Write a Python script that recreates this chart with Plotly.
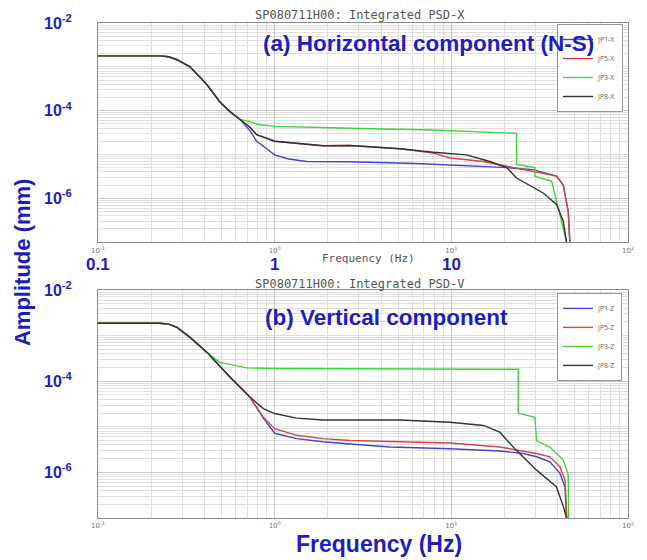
import math
import plotly.graph_objects as go

# ---------------- data (frequency in Hz, amplitude in mm) ----------------
# (a) Horizontal component (N-S)
x_names = ["JP1-X", "JP5-X", "JP3-X", "JP8-X"]
x_jp1_f = [0.1, 0.224, 0.251, 0.280, 0.332, 0.414, 0.490, 0.558, 0.637, 0.724, 0.791, 1.0, 1.2, 1.52, 2.67, 4.49, 6.37, 20.6, 29.0, 39.4, 43.0, 45.9, 46.9, 47.2]
x_jp1_a = [1.78e-3, 1.78e-3, 1.70e-3, 1.45e-3, 1.0e-3, 3.89e-4, 1.58e-4, 9.5e-5, 6.3e-5, 3.5e-5, 2.0e-5, 9.8e-6, 7.9e-6, 6.9e-6, 6.8e-6, 6.3e-6, 6.2e-6, 5.0e-6, 4.5e-6, 3.2e-6, 2.0e-6, 5.0e-7, 1.0e-7, 5e-8]
x_jp5_f = [0.1, 0.224, 0.251, 0.280, 0.332, 0.414, 0.490, 0.558, 0.637, 0.724, 0.791, 1.0, 1.88, 2.67, 5.12, 7.91, 9.82, 15.2, 20.6, 29.0, 39.4, 43.0, 45.9, 46.9, 47.2]
x_jp5_a = [1.78e-3, 1.78e-3, 1.70e-3, 1.45e-3, 1.0e-3, 3.89e-4, 1.58e-4, 9.5e-5, 6.3e-5, 4.2e-5, 2.82e-5, 2.0e-5, 1.58e-5, 1.6e-5, 1.35e-5, 1.07e-5, 8.3e-6, 6.9e-6, 5.4e-6, 4.1e-6, 3.2e-6, 2.0e-6, 5.0e-7, 1.0e-7, 5e-8]
x_jp3_f = [0.1, 0.224, 0.251, 0.280, 0.332, 0.414, 0.490, 0.558, 0.637, 0.724, 0.791, 1.0, 2.67, 7.91, 23.4, 23.4, 29.7, 29.7, 37.0, 39.4, 43.0, 44.9, 45.2]
x_jp3_a = [1.78e-3, 1.78e-3, 1.70e-3, 1.45e-3, 1.0e-3, 3.89e-4, 1.58e-4, 9.5e-5, 6.3e-5, 5.6e-5, 4.9e-5, 4.37e-5, 3.98e-5, 3.63e-5, 3.02e-5, 5.9e-6, 5.0e-6, 3.2e-6, 2.45e-6, 8.5e-7, 2.1e-7, 1.0e-7, 5e-8]
x_jp8_f = [0.1, 0.224, 0.251, 0.280, 0.332, 0.414, 0.490, 0.558, 0.637, 0.724, 0.791, 1.0, 1.88, 2.67, 5.12, 7.91, 12.2, 16.5, 20.6, 23.4, 33.1, 39.4, 43.0, 44.9, 45.2]
x_jp8_a = [1.78e-3, 1.78e-3, 1.70e-3, 1.45e-3, 1.0e-3, 3.89e-4, 1.58e-4, 9.5e-5, 6.3e-5, 4.2e-5, 2.82e-5, 2.0e-5, 1.58e-5, 1.6e-5, 1.35e-5, 1.12e-5, 9.8e-6, 6.9e-6, 5.0e-6, 2.9e-6, 1.32e-6, 7.2e-7, 3.0e-7, 1.0e-7, 5e-8]

# (b) Vertical component
v_names = ["JP1-Z", "JP5-Z", "JP3-Z", "JP8-Z"]
v_jp1_f = [0.1, 0.224, 0.251, 0.280, 0.332, 0.414, 0.558, 0.724, 0.863, 1.0, 1.33, 1.88, 2.67, 4.49, 9.82, 18.8, 25.5, 30.4, 36.1, 41.2, 44.0, 44.9, 45.2]
v_jp1_a = [1.86e-3, 1.86e-3, 1.78e-3, 1.51e-3, 9.1e-4, 4.27e-4, 1.23e-4, 4.47e-5, 1.55e-5, 7.2e-6, 5.5e-6, 4.7e-6, 4.2e-6, 3.6e-6, 3.3e-6, 2.95e-6, 2.6e-6, 2.2e-6, 1.7e-6, 9.5e-7, 4.8e-7, 1.0e-7, 5e-8]
v_jp5_f = [0.1, 0.224, 0.251, 0.280, 0.332, 0.414, 0.558, 0.724, 0.863, 1.0, 1.33, 1.88, 2.67, 4.49, 9.82, 18.8, 25.5, 30.4, 36.1, 41.2, 44.0, 45.2, 45.5]
v_jp5_a = [1.86e-3, 1.86e-3, 1.78e-3, 1.51e-3, 9.1e-4, 4.27e-4, 1.23e-4, 4.47e-5, 1.62e-5, 9.1e-6, 6.5e-6, 5.5e-6, 5.0e-6, 4.7e-6, 4.4e-6, 3.6e-6, 3.0e-6, 2.6e-6, 2.2e-6, 1.32e-6, 6.8e-7, 1.0e-7, 5e-8]
v_jp3_f = [0.1, 0.224, 0.251, 0.280, 0.332, 0.414, 0.490, 0.693, 1.0, 2.67, 23.9, 23.9, 29.7, 30.4, 36.1, 43.0, 45.9, 46.2]
v_jp3_a = [1.86e-3, 1.86e-3, 1.78e-3, 1.51e-3, 9.1e-4, 4.27e-4, 2.57e-4, 1.95e-4, 1.9e-4, 1.86e-4, 1.82e-4, 2.0e-5, 1.62e-5, 4.9e-6, 3.6e-6, 1.86e-6, 8.7e-7, 5e-8]
v_jp8_f = [0.1, 0.224, 0.251, 0.280, 0.332, 0.414, 0.558, 0.724, 0.863, 1.0, 1.33, 1.88, 2.67, 5.12, 9.82, 15.2, 18.8, 21.5, 23.4, 30.4, 39.4, 43.0, 44.9, 45.2]
v_jp8_a = [1.86e-3, 1.86e-3, 1.78e-3, 1.51e-3, 9.1e-4, 4.27e-4, 1.23e-4, 4.47e-5, 2.51e-5, 1.95e-5, 1.55e-5, 1.41e-5, 1.41e-5, 1.41e-5, 1.26e-5, 1.07e-5, 7.6e-6, 4.3e-6, 3.0e-6, 1.12e-6, 4.8e-7, 1.8e-7, 1.0e-7, 5e-8]

series_colors = ["#4646c8", "#d04848", "#3cd83c", "#333333"]

# tick labels
freq_ticks = [0.1, 1, 10, 100]
freq_tick_text = ["10<sup>-1</sup>", "10<sup>0</sup>", "10<sup>1</sup>", "10<sup>2</sup>"]
freq_minor = [k * 10.0 ** n for n in range(-1, 2) for k in range(2, 10)]
amp_ticks = [1e-6, 1e-4, 1e-2]
amp_tick_text = ["<b>10<sup>-6</sup></b>", "<b>10<sup>-4</sup></b>", "<b>10<sup>-2</sup></b>"]
amp_minor = [k * 10.0 ** n for n in range(-7, -2) for k in range(1, 10) if not (k == 1 and n % 2 == 0)]
big_freq_vals = [0.1, 1, 10]
big_freq_text = ["0.1", "1", "10"]

# ---------------- figure ----------------
W, H = 647, 560
ML, MR, MT, MB = 98, 19, 21, 42
PW, PH = W - ML - MR, H - MT - MB


def px(x):
    return (x - ML) / PW


def py(y):
    return (H - MB - y) / PH


BLUE = "#1e1ec0"
GREY = "#555555"

fig = go.Figure()
top = [(x_jp1_f, x_jp1_a), (x_jp5_f, x_jp5_a), (x_jp3_f, x_jp3_a), (x_jp8_f, x_jp8_a)]
bot = [(v_jp1_f, v_jp1_a), (v_jp5_f, v_jp5_a), (v_jp3_f, v_jp3_a), (v_jp8_f, v_jp8_a)]
for (f, a), name, c in zip(top, x_names, series_colors):
    fig.add_trace(go.Scatter(x=f, y=a, mode="lines", name=name, line=dict(color=c, width=1.4),
                             xaxis="x", yaxis="y", legend="legend"))
for (f, a), name, c in zip(bot, v_names, series_colors):
    fig.add_trace(go.Scatter(x=f, y=a, mode="lines", name=name, line=dict(color=c, width=1.4),
                             xaxis="x2", yaxis="y2", legend="legend2"))

xax = dict(type="log", range=[-1, 2], tickmode="array", tickvals=freq_ticks, ticktext=freq_tick_text,
           tickfont=dict(size=7, color="#777777", family="DejaVu Sans"), ticks="", ticklabelstandoff=1,
           showgrid=True, gridcolor="#c8c8c8", gridwidth=1,
           minor=dict(tickmode="array", tickvals=freq_minor, showgrid=True, gridcolor="#e0e0e0", ticks=""),
           showline=True, mirror=True, linecolor="#8a8a8a", linewidth=1, zeroline=False)
yax = dict(type="log", range=[-7, -2], tickmode="array", tickvals=amp_ticks, ticktext=amp_tick_text,
           tickfont=dict(size=16, color=BLUE, family="Liberation Sans"), ticks="", ticklabelstandoff=22,
           showgrid=True, gridcolor="#c8c8c8", gridwidth=1,
           minor=dict(tickmode="array", tickvals=amp_minor, showgrid=True, gridcolor="#e0e0e0", ticks=""),
           showline=True, mirror=True, linecolor="#8a8a8a", linewidth=1, zeroline=False)

fig.update_layout(
    width=W, height=H, margin=dict(l=ML, r=MR, t=MT, b=MB),
    paper_bgcolor="white", plot_bgcolor="white",
    xaxis=dict(xax, domain=[0, 1], anchor="y"),
    yaxis=dict(yax, domain=[py(241), 1], anchor="x"),
    xaxis2=dict(xax, domain=[0, 1], anchor="y2"),
    yaxis2=dict(yax, domain=[0, py(289)], anchor="x2"),
    legend=dict(x=px(557), y=py(22), xanchor="left", yanchor="top", bgcolor="white",
                bordercolor="#999999", borderwidth=1, font=dict(size=7, color="#666666"),
                itemwidth=30, tracegroupgap=0),
    legend2=dict(x=px(557), y=py(292), xanchor="left", yanchor="top", bgcolor="white",
                 bordercolor="#999999", borderwidth=1, font=dict(size=7, color="#666666"),
                 itemwidth=30, tracegroupgap=0),
    showlegend=True,
)

ann = []
mono = "DejaVu Sans Mono"
ann.append(dict(text="SP080711H00: Integrated PSD-X", x=px(360), y=py(13), font=dict(family=mono, size=12, color=GREY)))
ann.append(dict(text="SP080711H00: Integrated PSD-V", x=px(360), y=py(283), font=dict(family=mono, size=12, color=GREY)))
ann.append(dict(text="Frequency (Hz)", x=px(368), y=py(257), font=dict(family=mono, size=11, color=GREY)))
ann.append(dict(text="<b>(a) Horizontal component (N-S)</b>", x=px(428), y=py(42),
                font=dict(family="Liberation Sans", size=22.5, color=BLUE)))
ann.append(dict(text="<b>(b) Vertical component</b>", x=px(386), y=py(317),
                font=dict(family="Liberation Sans", size=22.5, color=BLUE)))
ann.append(dict(text="<b>Amplitude (mm)</b>", x=px(22), y=py(262), textangle=-90,
                font=dict(family="Liberation Sans", size=22, color=BLUE)))
ann.append(dict(text="<b>Frequency (Hz)</b>", x=px(379), y=py(544),
                font=dict(family="Liberation Sans", size=23, color=BLUE)))
for v, t in zip(big_freq_vals, big_freq_text):
    ann.append(dict(text="<b>" + t + "</b>", x=math.log10(v), xref="x", y=py(263), yref="paper",
                    font=dict(family="Liberation Sans", size=17, color=BLUE)))
for a in ann:
    a.setdefault("xref", "paper")
    a.setdefault("yref", "paper")
    a.update(showarrow=False, xanchor="center", yanchor="middle")
fig.update_layout(annotations=ann)

fig.write_html("out.html")
